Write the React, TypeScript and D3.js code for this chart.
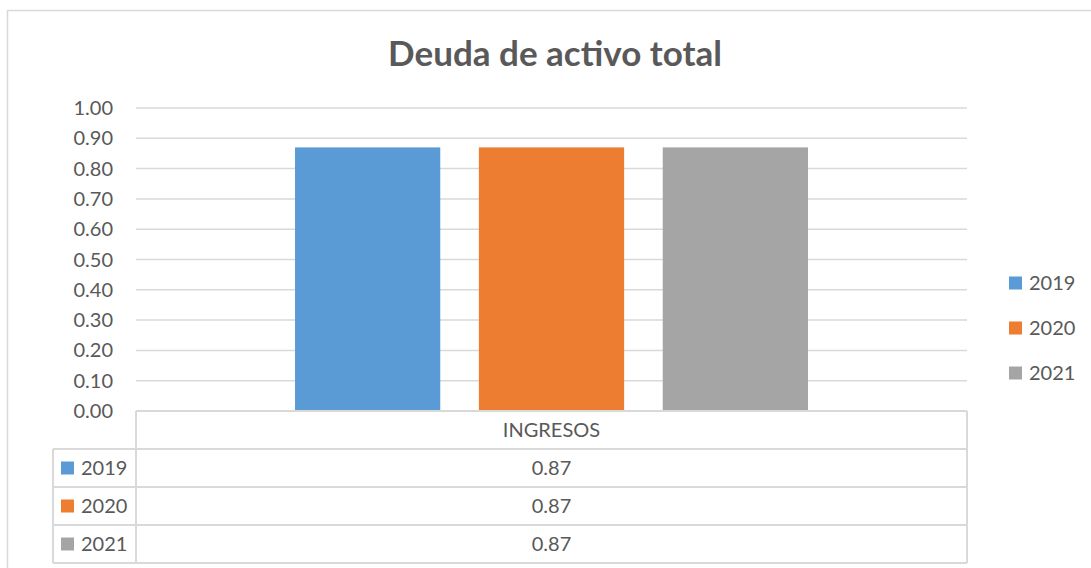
import React from 'react';
import * as d3 from 'd3';

const title = 'Deuda de activo total';
const categories = ['INGRESOS'];
const years = ['2019', '2020', '2021'];
const values = [0.87, 0.87, 0.87];
const colors = ['#5b9bd5', '#ed7d31', '#a5a5a5'];
const yTicks = [0, 0.1, 0.2, 0.3, 0.4, 0.5, 0.6, 0.7, 0.8, 0.9, 1.0];

const W = 1091;
const H = 568;
const FONT = 'Lato, "Open Sans", sans-serif';
const GRID = '#d9d9d9';
const TEXT = '#595959';

const App = () => {
  const left = 136;
  const right = 967;
  const top = 108;
  const bottom = 411;
  const rowH = 38;
  const keyLeft = 53;

  const y = d3.scaleLinear().domain([0, 1]).range([bottom, top]);
  const x0 = d3.scaleBand().domain(categories).range([left, right]).paddingOuter(0.31);
  const x1 = d3.scaleBand().domain(years).range([0, x0.bandwidth()]).paddingInner(0.21);

  // top edge of series row i in the data table
  const rowY = (i: number) => bottom + rowH * (i + 1);
  const tableBottom = rowY(years.length);

  return (
    <div style={{ position: 'fixed', left: 0, top: 0 }}>
      <svg width={W} height={H} style={{ display: 'block', fontFamily: FONT }}>
        <rect x={0} y={0} width={W} height={H} fill="#fff" />
        <rect x={7.5} y={10.5} width={W + 10} height={H + 10} fill="none" stroke={GRID} strokeWidth={1.5} />

        <text x={555} y={66} textAnchor="middle" fontSize={35} fontWeight="bold" fill={TEXT}>
          {title}
        </text>

        {yTicks.map((t) => (
          <g key={t}>
            {t > 0 && (
              <line x1={left} x2={right} y1={y(t)} y2={y(t)} stroke={GRID} strokeWidth={1.5} />
            )}
            <text x={113} y={y(t)} dy="0.35em" textAnchor="end" fontSize={20} fill={TEXT}>
              {t.toFixed(2)}
            </text>
          </g>
        ))}

        {categories.map((c) =>
          years.map((yr, i) => (
            <rect
              key={c + yr}
              x={(x0(c) as number) + (x1(yr) as number)}
              y={y(values[i])}
              width={x1.bandwidth()}
              height={bottom - y(values[i])}
              fill={colors[i]}
            />
          ))
        )}

        {/* data table */}
        <g stroke={GRID} strokeWidth={2} fill="none">
          <line x1={left} x2={right} y1={bottom} y2={bottom} />
          {years.map((yr, i) => (
            <line key={yr} x1={keyLeft} x2={right} y1={rowY(i)} y2={rowY(i)} />
          ))}
          <line x1={keyLeft} x2={right} y1={tableBottom} y2={tableBottom} />
          <line x1={left} x2={left} y1={bottom} y2={tableBottom} />
          <line x1={right} x2={right} y1={bottom} y2={tableBottom} />
          <line x1={keyLeft} x2={keyLeft} y1={rowY(0)} y2={tableBottom} />
        </g>
        {categories.map((c) => (
          <text
            key={c}
            x={(x0(c) as number) + x0.bandwidth() / 2}
            y={bottom + rowH / 2}
            dy="0.35em"
            textAnchor="middle"
            fontSize={20}
            fill={TEXT}
          >
            {c}
          </text>
        ))}
        {years.map((yr, i) => (
          <g key={yr}>
            <rect x={61} y={rowY(i) + rowH / 2 - 6.5} width={13} height={13} fill={colors[i]} />
            <text x={81} y={rowY(i) + rowH / 2} dy="0.35em" fontSize={20} fill={TEXT}>
              {yr}
            </text>
            <text x={(left + right) / 2} y={rowY(i) + rowH / 2} dy="0.35em" textAnchor="middle" fontSize={20} fill={TEXT}>
              {values[i].toFixed(2)}
            </text>
          </g>
        ))}

        {/* legend */}
        {years.map((yr, i) => (
          <g key={yr} transform={`translate(1009, ${283 + i * 45})`}>
            <rect x={0} y={-6.5} width={13} height={13} fill={colors[i]} />
            <text x={20} y={0} dy="0.35em" fontSize={20} fill={TEXT}>
              {yr}
            </text>
          </g>
        ))}
      </svg>
    </div>
  );
};

export default App;
